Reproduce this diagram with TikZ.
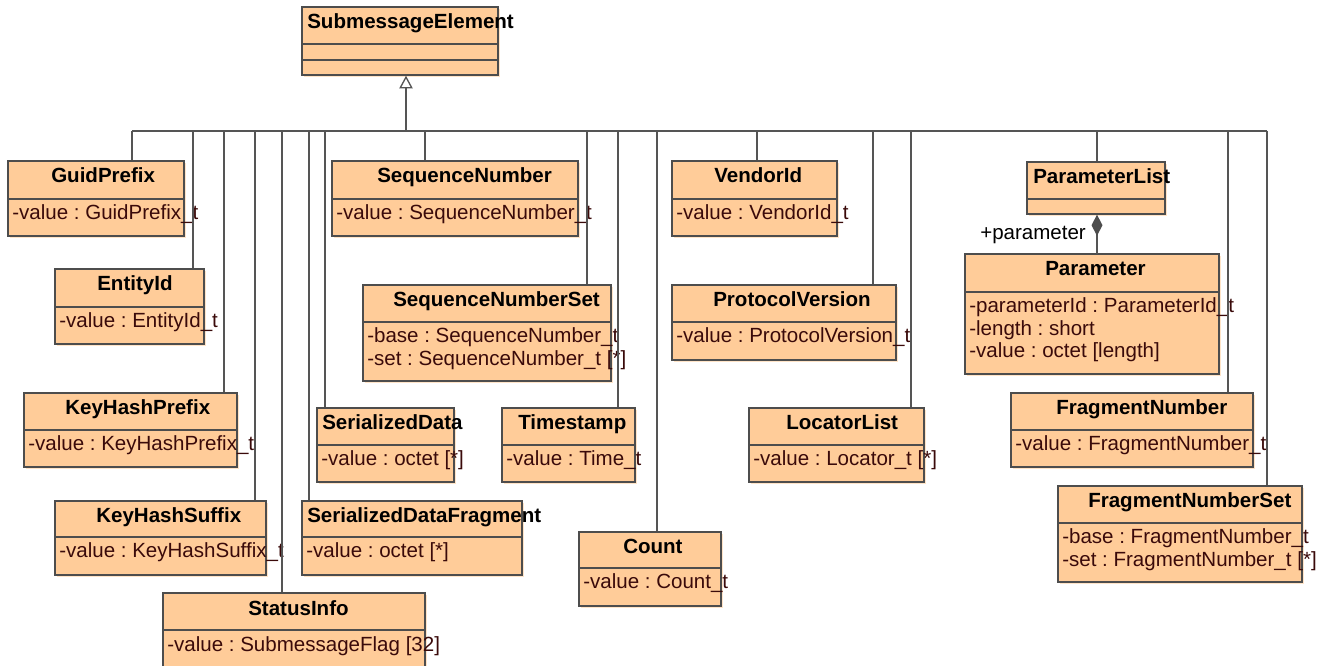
\documentclass[tikz,border=0pt]{standalone}
\usepackage{fontspec}
\setmainfont{Liberation Sans}
\usetikzlibrary{arrows.meta,fit}
\frenchspacing
\definecolor{clsfill}{HTML}{FFCC99}
\definecolor{clsshadow}{HTML}{FFE4C8}
\definecolor{clsline}{HTML}{4D4D4D}
\definecolor{attrc}{HTML}{3A0A0A}
\definecolor{connc}{HTML}{555555}
\tikzset{
  cls/.style={rectangle, draw=clsline, line width=1.1pt, fill=clsfill, inner sep=0pt},
  sepline/.style={draw=clsline, line width=1.1pt},
  ttl/.style={font=\fontsize{15.4}{18}\selectfont\bfseries\frenchspacing, text=black, inner sep=0pt, anchor=base west},
  attr/.style={font=\fontsize{15.4}{18}\selectfont\frenchspacing, text=attrc, inner sep=0pt, anchor=base west},
  lbl/.style={font=\fontsize{15.4}{18}\selectfont, text=black, inner sep=0pt, anchor=base west},
  conn/.style={draw=connc, line width=1pt},
}
% #1 name, #2 x1, #3 y1, #4 x2, #5 y2, #6 header line y, #7 title x, #8 title
\newcommand\umlcls[8]{%
  \fill[clsshadow] ({#2+2},{#3+2}) rectangle ({#4+2},{#5+2});
  \node[cls, fit={(#2,#3) (#4,#5)}] (#1) {};
  \draw[sepline] (#2,#6) -- (#4,#6);
  \node[ttl] (#1t) at (#7,{#3+22}) {#8};
}
% #1 name, #2 x, #3 baseline y, #4 text
\newcommand\umlattr[4]{\node[attr] (#1) at (#2,#3) {#4};}
\begin{document}
\begin{tikzpicture}[x=0.75pt,y=-0.75pt]
\clip (0,0) rectangle (1329,666);
\fill[white] (0,0) rectangle (1329,666);

% SubmessageElement
\umlcls{sme}{302}{7}{498}{75}{44}{307}{SubmessageElement}
\draw[sepline] (302,60) -- (498,60);

\umlcls{guid}{8}{161}{184}{236}{199}{51}{GuidPrefix}
\umlattr{guida}{12}{220}{-value : GuidPrefix\_t}

\umlcls{eid}{55}{269}{204}{344}{307}{97}{EntityId}
\umlattr{eida}{59}{328}{-value : EntityId\_t}

\umlcls{khp}{24}{393}{237}{467}{430}{65}{KeyHashPrefix}
\umlattr{khpa}{28}{451}{-value : KeyHashPrefix\_t}

\umlcls{khs}{55}{501}{266}{575}{537}{96}{KeyHashSuffix}
\umlattr{khsa}{59}{558}{-value : KeyHashSuffix\_t}

\umlcls{sti}{163}{593}{425}{672}{630}{248}{StatusInfo}
\umlattr{stia}{167}{651}{-value : SubmessageFlag [32]}

\umlcls{sd}{317}{408}{454}{482}{445}{322}{SerializedData}
\umlattr{sda}{321}{466}{-value : octet [*]}

\umlcls{sdf}{302}{501}{522}{575}{537}{307}{SerializedDataFragment}
\umlattr{sdfa}{306}{558}{-value : octet [*]}

\umlcls{sn}{332}{161}{578}{236}{199}{377}{SequenceNumber}
\umlattr{sna}{336}{220}{-value : SequenceNumber\_t}

\umlcls{sns}{363}{285}{611}{381}{322}{393}{SequenceNumberSet}
\umlattr{snsa}{367}{343}{-base : SequenceNumber\_t}
\umlattr{snsb}{367}{365.5}{-set : SequenceNumber\_t [*]}

\umlcls{ts}{502}{408}{635}{482}{445}{518}{Timestamp}
\umlattr{tsa}{506}{466}{-value : Time\_t}

\umlcls{cnt}{579}{532}{721}{606}{568}{623}{Count}
\umlattr{cnta}{583}{589}{-value : Count\_t}

\umlcls{vid}{672}{161}{837}{236}{199}{714}{VendorId}
\umlattr{vida}{676}{220}{-value : VendorId\_t}

\umlcls{pv}{672}{285}{896}{360}{322}{713}{ProtocolVersion}
\umlattr{pva}{676}{343}{-value : ProtocolVersion\_t}

\umlcls{ll}{749}{408}{924}{482}{445}{786}{LocatorList}
\umlattr{lla}{753}{466}{-value : Locator\_t [*]}

\umlcls{pl}{1027}{162}{1165}{214}{199}{1033}{ParameterList}

\umlcls{par}{965}{254}{1219}{374}{292}{1045}{Parameter}
\umlattr{para}{969}{313}{-parameterId : ParameterId\_t}
\umlattr{parb}{969}{335.5}{-length : short}
\umlattr{parc}{969}{358}{-value : octet [length]}

\umlcls{fn}{1011}{393}{1253}{467}{430}{1056}{FragmentNumber}
\umlattr{fna}{1015}{451}{-value : FragmentNumber\_t}

\umlcls{fns}{1058}{486}{1302}{582}{523}{1088}{FragmentNumberSet}
\umlattr{fnsa}{1062}{544}{-base : FragmentNumber\_t}
\umlattr{fnsb}{1062}{566.5}{-set : FragmentNumber\_t [*]}

% generalization bus
\coordinate (bL) at (132,131);
\coordinate (bR) at (1267,131);
\draw[conn] (bL) -- (bR);
\foreach \x/\t in {132/guid,193/eid,224/khp,255/khs,282/sti,309/sdf,325/sd,425/sn,587/sns,618/ts,657/cnt,757/vid,873/pv,911/ll,1097/pl,1228/fn,1267/fns}{
  \coordinate (d\t) at (\x,131);
  \draw[conn] (d\t) -- (d\t |- \t.north);
}
\coordinate (gen) at (406,131);
\draw[conn, -{Triangle[open, length=9.5pt, width=10pt, fill=white]}] (gen) -- (gen |- sme.south);

% composition
\coordinate (pc) at (1097,254);
\draw[conn, -{Diamond[length=15.75pt, width=8.25pt, fill=clsline, color=clsline]}] (pc) -- (pc |- pl.south);
\node[lbl] (plab) at (980,240) {+parameter};
\end{tikzpicture}
\end{document}
